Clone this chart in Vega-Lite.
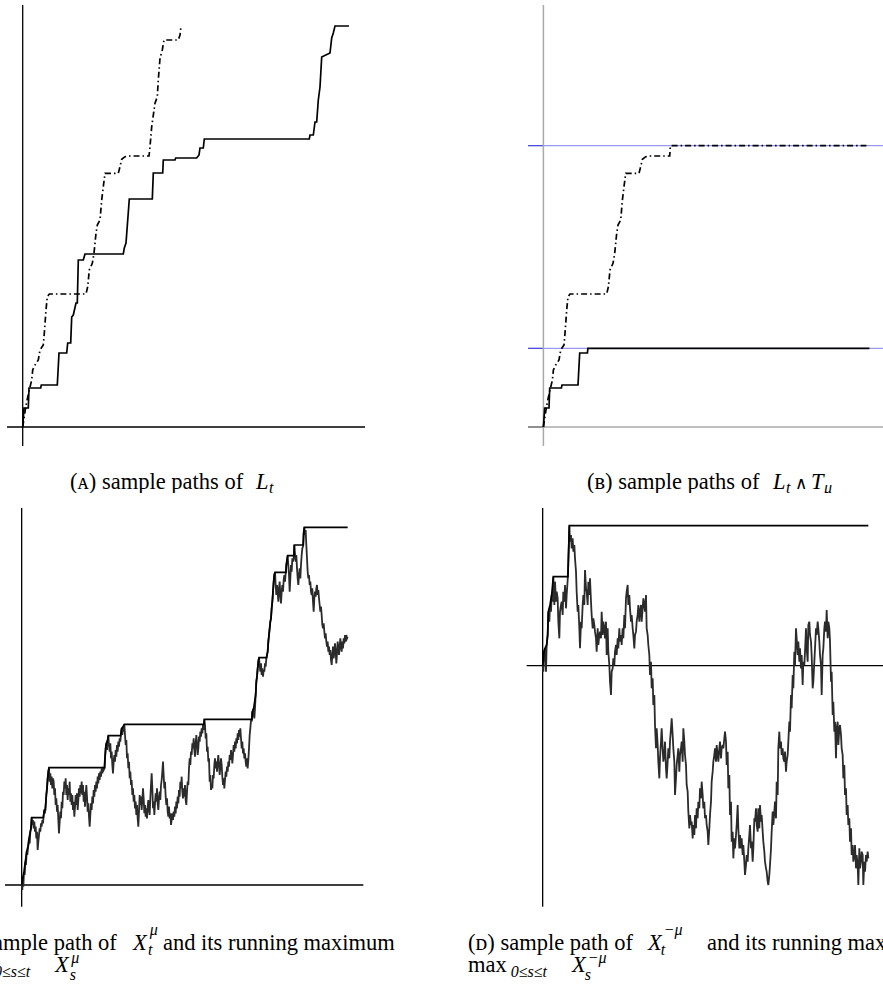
{
"$schema": "https://vega.github.io/schema/vega-lite/v6.json",
"padding": 0,
"bounds": "flush",
"spacing": 0,
"columns": 2,
"background": "#ffffff",
"config": {"view": {"stroke": null}, "axis": {"disable": true}, "text": {"font": "Liberation Serif", "color": "#000000"}},
"datasets": {
"a_solid": [{"t":0,"v":0},{"t":0.13,"v":1.9},{"t":0.56,"v":1.9},{"t":0.63,"v":3.9},{"t":1.8,"v":3.9},{"t":1.86,"v":4.2},{"t":3.46,"v":4.2},{"t":3.63,"v":7.4},{"t":4.4,"v":7.4},{"t":4.5,"v":8.4},{"t":4.8,"v":8.4},{"t":4.9,"v":11.0},{"t":5.06,"v":11.2},{"t":5.33,"v":12.4},{"t":5.46,"v":12.4},{"t":5.56,"v":16.7},{"t":6.06,"v":16.7},{"t":6.23,"v":17.3},{"t":10.06,"v":17.3},{"t":10.16,"v":17.9},{"t":10.33,"v":18.4},{"t":10.66,"v":22.8},{"t":12.96,"v":22.8},{"t":13.06,"v":25.4},{"t":14.0,"v":25.4},{"t":14.06,"v":26.7},{"t":15.23,"v":26.7},{"t":15.3,"v":26.9},{"t":17.4,"v":26.9},{"t":17.63,"v":27.2},{"t":17.73,"v":27.9},{"t":18.06,"v":27.9},{"t":18.16,"v":28.8},{"t":28.66,"v":28.8},{"t":28.73,"v":29.2},{"t":29.06,"v":29.2},{"t":29.23,"v":30.5},{"t":29.4,"v":30.5},{"t":29.56,"v":32.7},{"t":29.73,"v":34.0},{"t":29.9,"v":37.0},{"t":30.73,"v":37.4},{"t":30.9,"v":38.9},{"t":31.06,"v":39.4},{"t":31.23,"v":40.1},{"t":32.63,"v":40.1}],
"a_dash": [{"t":0,"v":0},{"t":0.23,"v":1.53},{"t":0.4,"v":2.53},{"t":0.66,"v":3.7},{"t":0.9,"v":4.7},{"t":1.0,"v":5.7},{"t":1.23,"v":6.2},{"t":1.56,"v":6.7},{"t":1.73,"v":7.7},{"t":2.06,"v":8.2},{"t":2.16,"v":9.37},{"t":2.33,"v":11.7},{"t":2.46,"v":13.03},{"t":2.66,"v":13.3},{"t":6.33,"v":13.3},{"t":6.5,"v":14.03},{"t":6.66,"v":15.7},{"t":6.96,"v":16.37},{"t":7.13,"v":17.37},{"t":7.33,"v":19.37},{"t":7.46,"v":20.2},{"t":7.73,"v":20.7},{"t":7.9,"v":22.7},{"t":8.06,"v":24.03},{"t":8.23,"v":25.37},{"t":9.56,"v":25.37},{"t":9.73,"v":26.03},{"t":9.9,"v":26.77},{"t":10.23,"v":27.03},{"t":10.73,"v":27.1},{"t":12.63,"v":27.1},{"t":12.73,"v":28.03},{"t":12.9,"v":30.03},{"t":13.23,"v":32.37},{"t":13.46,"v":33.03},{"t":13.56,"v":34.7},{"t":13.73,"v":36.87},{"t":13.96,"v":37.7},{"t":14.13,"v":38.7},{"t":15.56,"v":38.7},{"t":15.73,"v":39.2},{"t":15.83,"v":40.1}],
"b_solid": [{"t":0,"v":0},{"t":0.13,"v":1.9},{"t":0.56,"v":1.9},{"t":0.63,"v":3.9},{"t":1.8,"v":3.9},{"t":1.86,"v":4.2},{"t":3.46,"v":4.2},{"t":3.63,"v":7.4},{"t":4.4,"v":7.4},{"t":4.45,"v":7.87},{"t":32.6,"v":7.87}],
"b_dash": [{"t":0,"v":0},{"t":0.23,"v":1.53},{"t":0.4,"v":2.53},{"t":0.66,"v":3.7},{"t":0.9,"v":4.7},{"t":1.0,"v":5.7},{"t":1.23,"v":6.2},{"t":1.56,"v":6.7},{"t":1.73,"v":7.7},{"t":2.06,"v":8.2},{"t":2.16,"v":9.37},{"t":2.33,"v":11.7},{"t":2.46,"v":13.03},{"t":2.66,"v":13.3},{"t":6.33,"v":13.3},{"t":6.5,"v":14.03},{"t":6.66,"v":15.7},{"t":6.96,"v":16.37},{"t":7.13,"v":17.37},{"t":7.33,"v":19.37},{"t":7.46,"v":20.2},{"t":7.73,"v":20.7},{"t":7.9,"v":22.7},{"t":8.06,"v":24.03},{"t":8.23,"v":25.37},{"t":9.56,"v":25.37},{"t":9.73,"v":26.03},{"t":9.9,"v":26.77},{"t":10.23,"v":27.03},{"t":10.73,"v":27.1},{"t":12.63,"v":27.1},{"t":12.7,"v":28.13},{"t":32.3,"v":28.13}],
"c_max": [{"t":0,"v":0},{"t":0.3,"v":2},{"t":0.7,"v":4},{"t":1.1,"v":7},{"t":1.5,"v":10},{"t":2.0,"v":12},{"t":2.2,"v":14},{"t":2.6,"v":16},{"t":2.8,"v":17},{"t":3.0,"v":20.2},{"t":6.5,"v":20.2},{"t":6.6,"v":21},{"t":6.8,"v":22.5},{"t":7.1,"v":22.5},{"t":7.2,"v":24},{"t":7.4,"v":27},{"t":7.6,"v":29},{"t":7.8,"v":32},{"t":8.0,"v":34},{"t":8.2,"v":35.2},{"t":24.9,"v":35.2},{"t":25.0,"v":38},{"t":25.2,"v":41},{"t":25.4,"v":42.5},{"t":25.8,"v":43.5},{"t":26.0,"v":44.8},{"t":29.7,"v":44.8},{"t":29.8,"v":45.5},{"t":30.0,"v":47},{"t":30.4,"v":47.5},{"t":30.8,"v":48.2},{"t":54.7,"v":48.2},{"t":54.8,"v":49.7},{"t":69.1,"v":49.7},{"t":69.2,"v":52},{"t":69.6,"v":53},{"t":70.2,"v":57},{"t":70.4,"v":61},{"t":70.6,"v":62.5},{"t":70.8,"v":65},{"t":71.0,"v":67},{"t":71.2,"v":68.2},{"t":73.5,"v":68.2},{"t":73.6,"v":69},{"t":73.8,"v":70},{"t":74.0,"v":73},{"t":74.2,"v":75},{"t":74.4,"v":77},{"t":74.6,"v":79},{"t":74.8,"v":80},{"t":75.0,"v":83},{"t":75.2,"v":85},{"t":75.4,"v":88},{"t":75.6,"v":91},{"t":75.8,"v":93},{"t":76.0,"v":93.8},{"t":79.3,"v":93.8},{"t":79.4,"v":96},{"t":79.6,"v":97.5},{"t":79.8,"v":98.8},{"t":81.7,"v":98.8},{"t":81.8,"v":102},{"t":84.5,"v":102},{"t":84.6,"v":105.5},{"t":84.8,"v":107.3},{"t":97.8,"v":107.3}],
"c_path": [{"t":0,"v":0},{"t":0.2,"v":-1.5},{"t":0.3,"v":2},{"t":0.5,"v":-0.5},{"t":0.7,"v":4},{"t":0.9,"v":3},{"t":1.1,"v":7},{"t":1.3,"v":6},{"t":1.5,"v":10},{"t":1.7,"v":9},{"t":2.0,"v":12},{"t":2.2,"v":14},{"t":2.4,"v":12.5},{"t":2.6,"v":16},{"t":2.8,"v":17},{"t":3.0,"v":20.2},{"t":3.2,"v":18},{"t":3.4,"v":19.5},{"t":3.6,"v":17},{"t":3.8,"v":19},{"t":4.0,"v":16},{"t":4.2,"v":17.5},{"t":4.4,"v":14},{"t":4.6,"v":16},{"t":4.8,"v":10.5},{"t":5.0,"v":13},{"t":5.2,"v":15},{"t":5.4,"v":17},{"t":5.6,"v":16},{"t":5.8,"v":18.5},{"t":6.0,"v":17.5},{"t":6.2,"v":19.5},{"t":6.4,"v":18.5},{"t":6.6,"v":21},{"t":6.8,"v":22.5},{"t":7.0,"v":21.5},{"t":7.2,"v":24},{"t":7.4,"v":27},{"t":7.6,"v":29},{"t":7.8,"v":32},{"t":8.0,"v":34},{"t":8.2,"v":35.2},{"t":8.4,"v":31},{"t":8.6,"v":33.5},{"t":8.8,"v":30},{"t":9.0,"v":32.5},{"t":9.2,"v":29},{"t":9.4,"v":32},{"t":9.6,"v":31},{"t":9.8,"v":27},{"t":10.0,"v":29},{"t":10.2,"v":24},{"t":10.4,"v":26},{"t":10.6,"v":22},{"t":10.8,"v":24},{"t":11.0,"v":19.5},{"t":11.2,"v":15.5},{"t":11.4,"v":19},{"t":11.6,"v":22},{"t":11.8,"v":20},{"t":12.0,"v":25},{"t":12.2,"v":23},{"t":12.4,"v":28},{"t":12.6,"v":27},{"t":12.8,"v":31},{"t":13.0,"v":29},{"t":13.2,"v":32},{"t":13.4,"v":27},{"t":13.6,"v":30},{"t":13.8,"v":25.5},{"t":14.0,"v":29},{"t":14.2,"v":27},{"t":14.4,"v":31},{"t":14.6,"v":25},{"t":14.8,"v":27.5},{"t":15.0,"v":24},{"t":15.2,"v":27},{"t":15.4,"v":22.5},{"t":15.6,"v":25},{"t":15.8,"v":20.5},{"t":16.0,"v":23.5},{"t":16.2,"v":27},{"t":16.4,"v":24},{"t":16.6,"v":27.5},{"t":16.8,"v":22.5},{"t":17.0,"v":25.5},{"t":17.2,"v":29},{"t":17.4,"v":26.5},{"t":17.6,"v":30},{"t":17.8,"v":27.5},{"t":18.0,"v":31},{"t":18.2,"v":27},{"t":18.4,"v":30},{"t":18.6,"v":25},{"t":18.8,"v":28},{"t":19.0,"v":23.5},{"t":19.2,"v":27},{"t":19.4,"v":30},{"t":19.6,"v":26.5},{"t":19.8,"v":22},{"t":20.0,"v":24.5},{"t":20.2,"v":20.5},{"t":20.4,"v":17.5},{"t":20.6,"v":21},{"t":20.8,"v":24.5},{"t":21.0,"v":22.5},{"t":21.2,"v":26.5},{"t":21.4,"v":24.5},{"t":21.6,"v":28.5},{"t":21.8,"v":26.5},{"t":22.0,"v":30},{"t":22.2,"v":28},{"t":22.4,"v":31},{"t":22.6,"v":29},{"t":22.8,"v":32.5},{"t":23.0,"v":30.5},{"t":23.2,"v":33.5},{"t":23.4,"v":31.5},{"t":23.6,"v":34},{"t":23.8,"v":32.5},{"t":24.0,"v":35},{"t":24.2,"v":33.5},{"t":24.4,"v":34.8},{"t":24.6,"v":34.5},{"t":24.8,"v":35},{"t":25.0,"v":38},{"t":25.2,"v":41},{"t":25.4,"v":42.5},{"t":25.6,"v":40.5},{"t":25.8,"v":43.5},{"t":26.0,"v":44.8},{"t":26.2,"v":42},{"t":26.4,"v":40},{"t":26.6,"v":42.5},{"t":26.8,"v":38},{"t":27.0,"v":40},{"t":27.2,"v":36},{"t":27.4,"v":33.5},{"t":27.6,"v":37},{"t":27.8,"v":39},{"t":28.0,"v":37},{"t":28.2,"v":40.5},{"t":28.4,"v":38.5},{"t":28.6,"v":42},{"t":28.8,"v":40},{"t":29.0,"v":43},{"t":29.2,"v":41.5},{"t":29.4,"v":44},{"t":29.6,"v":43},{"t":29.8,"v":45.5},{"t":30.0,"v":47},{"t":30.2,"v":45},{"t":30.4,"v":47.5},{"t":30.6,"v":46},{"t":30.8,"v":48.2},{"t":31.0,"v":45},{"t":31.2,"v":42},{"t":31.4,"v":43.5},{"t":31.6,"v":38},{"t":31.8,"v":39.5},{"t":32.0,"v":35},{"t":32.2,"v":37},{"t":32.4,"v":32},{"t":32.6,"v":34},{"t":32.8,"v":30},{"t":33.0,"v":31.5},{"t":33.2,"v":27},{"t":33.4,"v":29},{"t":33.6,"v":25},{"t":33.8,"v":27},{"t":34.0,"v":23},{"t":34.2,"v":25},{"t":34.4,"v":21},{"t":34.6,"v":24},{"t":34.8,"v":20},{"t":35.0,"v":17.5},{"t":35.2,"v":22},{"t":35.4,"v":27},{"t":35.6,"v":24},{"t":35.8,"v":26.5},{"t":36.0,"v":22.5},{"t":36.2,"v":25.5},{"t":36.4,"v":29},{"t":36.6,"v":26},{"t":36.8,"v":21.5},{"t":37.0,"v":24},{"t":37.2,"v":20.5},{"t":37.4,"v":23},{"t":37.6,"v":20},{"t":37.8,"v":23.5},{"t":38.0,"v":25.5},{"t":38.2,"v":22.5},{"t":38.4,"v":21},{"t":38.6,"v":26},{"t":38.8,"v":30},{"t":39.0,"v":33.5},{"t":39.2,"v":29},{"t":39.4,"v":23},{"t":39.6,"v":25},{"t":39.8,"v":21},{"t":40.0,"v":24.5},{"t":40.2,"v":27.5},{"t":40.4,"v":25},{"t":40.6,"v":29},{"t":40.8,"v":24.5},{"t":41.0,"v":22.5},{"t":41.2,"v":26},{"t":41.4,"v":28},{"t":41.6,"v":25.5},{"t":41.8,"v":30},{"t":42.0,"v":31.5},{"t":42.2,"v":34},{"t":42.4,"v":37},{"t":42.6,"v":33},{"t":42.8,"v":29},{"t":43.0,"v":31},{"t":43.2,"v":26.5},{"t":43.4,"v":24},{"t":43.6,"v":26},{"t":43.8,"v":22},{"t":44.0,"v":20.5},{"t":44.2,"v":23.5},{"t":44.4,"v":20},{"t":44.6,"v":21.5},{"t":44.8,"v":18},{"t":45.0,"v":19.5},{"t":45.2,"v":21.5},{"t":45.4,"v":19.5},{"t":45.6,"v":22},{"t":45.8,"v":20.5},{"t":46.0,"v":23.5},{"t":46.2,"v":21.5},{"t":46.4,"v":25},{"t":46.6,"v":23},{"t":46.8,"v":26.5},{"t":47.0,"v":24.5},{"t":47.2,"v":28.5},{"t":47.4,"v":26.5},{"t":47.6,"v":31},{"t":47.8,"v":29},{"t":48.0,"v":32.5},{"t":48.2,"v":28},{"t":48.4,"v":26},{"t":48.6,"v":29},{"t":48.8,"v":26.5},{"t":49.0,"v":30},{"t":49.2,"v":25.5},{"t":49.4,"v":24},{"t":49.6,"v":28},{"t":49.8,"v":31},{"t":50.0,"v":30},{"t":50.2,"v":35},{"t":50.4,"v":38},{"t":50.6,"v":36},{"t":50.8,"v":40},{"t":51.0,"v":39},{"t":51.2,"v":42.5},{"t":51.4,"v":41},{"t":51.6,"v":44},{"t":51.8,"v":40.5},{"t":52.0,"v":38.5},{"t":52.2,"v":42.5},{"t":52.4,"v":45},{"t":52.6,"v":42.5},{"t":52.8,"v":39},{"t":53.0,"v":41},{"t":53.2,"v":44.5},{"t":53.4,"v":43},{"t":53.6,"v":46},{"t":53.8,"v":44.5},{"t":54.0,"v":47},{"t":54.2,"v":45.5},{"t":54.4,"v":48},{"t":54.6,"v":46.5},{"t":54.8,"v":49.7},{"t":55.0,"v":48},{"t":55.2,"v":44},{"t":55.4,"v":45.5},{"t":55.6,"v":40},{"t":55.8,"v":41.5},{"t":56.0,"v":37},{"t":56.2,"v":38},{"t":56.4,"v":31},{"t":56.6,"v":33},{"t":56.8,"v":28.5},{"t":57.0,"v":30},{"t":57.2,"v":29},{"t":57.4,"v":33},{"t":57.6,"v":32},{"t":57.8,"v":36},{"t":58.0,"v":38},{"t":58.2,"v":35},{"t":58.4,"v":37},{"t":58.6,"v":34},{"t":58.8,"v":37},{"t":59.0,"v":39},{"t":59.2,"v":36},{"t":59.4,"v":33},{"t":59.6,"v":35.5},{"t":59.8,"v":38},{"t":60.0,"v":36},{"t":60.2,"v":32.5},{"t":60.4,"v":30},{"t":60.6,"v":32},{"t":60.8,"v":29},{"t":61.0,"v":31.5},{"t":61.2,"v":34},{"t":61.4,"v":32.5},{"t":61.6,"v":35.5},{"t":61.8,"v":34},{"t":62.0,"v":37},{"t":62.2,"v":35.5},{"t":62.4,"v":39},{"t":62.6,"v":37.5},{"t":62.8,"v":40.5},{"t":63.0,"v":39},{"t":63.2,"v":36.5},{"t":63.4,"v":39},{"t":63.6,"v":42},{"t":63.8,"v":40},{"t":64.0,"v":43},{"t":64.2,"v":41},{"t":64.4,"v":44},{"t":64.6,"v":42.5},{"t":64.8,"v":45.5},{"t":65.0,"v":43.5},{"t":65.2,"v":46.5},{"t":65.4,"v":44.5},{"t":65.6,"v":47},{"t":65.8,"v":44},{"t":66.0,"v":41},{"t":66.2,"v":43},{"t":66.4,"v":39.5},{"t":66.6,"v":41},{"t":66.8,"v":38},{"t":67.0,"v":39.5},{"t":67.2,"v":37},{"t":67.4,"v":35.5},{"t":67.6,"v":38},{"t":67.8,"v":35},{"t":68.0,"v":37.5},{"t":68.2,"v":41},{"t":68.4,"v":45},{"t":68.6,"v":47},{"t":68.8,"v":49.5},{"t":69.0,"v":49},{"t":69.2,"v":52},{"t":69.4,"v":50.5},{"t":69.6,"v":53},{"t":69.8,"v":50},{"t":70.0,"v":53},{"t":70.2,"v":57},{"t":70.4,"v":61},{"t":70.6,"v":62.5},{"t":70.8,"v":65},{"t":71.0,"v":67},{"t":71.2,"v":68.2},{"t":71.4,"v":66},{"t":71.6,"v":64},{"t":71.8,"v":66.5},{"t":72.0,"v":63},{"t":72.2,"v":65},{"t":72.4,"v":62.5},{"t":72.6,"v":64.5},{"t":72.8,"v":64},{"t":73.0,"v":66.5},{"t":73.2,"v":65.5},{"t":73.4,"v":68},{"t":73.6,"v":69},{"t":73.8,"v":70},{"t":74.0,"v":73},{"t":74.2,"v":75},{"t":74.4,"v":77},{"t":74.6,"v":79},{"t":74.8,"v":80},{"t":75.0,"v":83},{"t":75.2,"v":85},{"t":75.4,"v":88},{"t":75.6,"v":91},{"t":75.8,"v":93},{"t":76.0,"v":93.8},{"t":76.2,"v":90},{"t":76.4,"v":87},{"t":76.6,"v":90},{"t":76.8,"v":88},{"t":77.0,"v":85},{"t":77.2,"v":89},{"t":77.4,"v":91},{"t":77.6,"v":87},{"t":77.8,"v":84.5},{"t":78.0,"v":88},{"t":78.2,"v":90},{"t":78.4,"v":88},{"t":78.6,"v":91.5},{"t":78.8,"v":93},{"t":79.0,"v":91},{"t":79.2,"v":93.5},{"t":79.4,"v":96},{"t":79.6,"v":97.5},{"t":79.8,"v":98.8},{"t":80.0,"v":96},{"t":80.2,"v":93},{"t":80.4,"v":88},{"t":80.6,"v":92},{"t":80.8,"v":96},{"t":81.0,"v":94},{"t":81.2,"v":98},{"t":81.4,"v":97},{"t":81.6,"v":98},{"t":81.8,"v":102},{"t":82.0,"v":99.5},{"t":82.2,"v":97},{"t":82.4,"v":99},{"t":82.6,"v":95},{"t":82.8,"v":92},{"t":83.0,"v":90},{"t":83.2,"v":93},{"t":83.4,"v":95},{"t":83.6,"v":92},{"t":83.8,"v":96},{"t":84.0,"v":99},{"t":84.2,"v":101},{"t":84.4,"v":101.5},{"t":84.6,"v":105.5},{"t":84.8,"v":107.3},{"t":85.0,"v":105},{"t":85.2,"v":106.5},{"t":85.4,"v":102},{"t":85.6,"v":98},{"t":85.8,"v":94},{"t":86.0,"v":92},{"t":86.2,"v":93},{"t":86.4,"v":90},{"t":86.6,"v":91},{"t":86.8,"v":88},{"t":87.0,"v":87},{"t":87.2,"v":89},{"t":87.4,"v":85},{"t":87.6,"v":82},{"t":87.8,"v":86},{"t":88.0,"v":88},{"t":88.2,"v":86.5},{"t":88.4,"v":89},{"t":88.6,"v":90},{"t":88.8,"v":87},{"t":89.0,"v":88.5},{"t":89.2,"v":86},{"t":89.4,"v":84},{"t":89.6,"v":82},{"t":89.8,"v":83.5},{"t":90.0,"v":81},{"t":90.2,"v":78},{"t":90.4,"v":77},{"t":90.6,"v":78.5},{"t":90.8,"v":76},{"t":91.0,"v":74},{"t":91.2,"v":75.5},{"t":91.4,"v":73},{"t":91.6,"v":71.5},{"t":91.8,"v":73},{"t":92.0,"v":70},{"t":92.2,"v":71.5},{"t":92.4,"v":69},{"t":92.6,"v":70.5},{"t":92.8,"v":67.5},{"t":93.0,"v":66},{"t":93.2,"v":69},{"t":93.4,"v":71.5},{"t":93.6,"v":68},{"t":93.8,"v":70},{"t":94.0,"v":72.5},{"t":94.2,"v":70},{"t":94.4,"v":66.5},{"t":94.6,"v":69.5},{"t":94.8,"v":73},{"t":95.0,"v":71},{"t":95.2,"v":69},{"t":95.4,"v":71.5},{"t":95.6,"v":74},{"t":95.8,"v":71.5},{"t":96.0,"v":70},{"t":96.2,"v":73},{"t":96.4,"v":71},{"t":96.6,"v":74},{"t":96.8,"v":72.5},{"t":97.0,"v":75},{"t":97.2,"v":73},{"t":97.4,"v":75},{"t":97.6,"v":74},{"t":97.8,"v":74.5}],
"d_max": [{"t":0,"v":0},{"t":0.4,"v":4.2},{"t":0.7,"v":5.2},{"t":1.2,"v":6.2},{"t":1.5,"v":9.2},{"t":1.7,"v":16.2},{"t":2.2,"v":18.2},{"t":2.7,"v":21.2},{"t":3.2,"v":26.7},{"t":7.6,"v":26.7},{"t":7.7,"v":31.2},{"t":7.9,"v":38.2},{"t":8.0,"v":42},{"t":97.7,"v":42}],
"d_path": [{"t":0,"v":0},{"t":0.2,"v":-1.8},{"t":0.4,"v":4.2},{"t":0.7,"v":5.2},{"t":1.0,"v":-1.8},{"t":1.2,"v":6.2},{"t":1.5,"v":9.2},{"t":1.7,"v":16.2},{"t":2.0,"v":13.2},{"t":2.2,"v":18.2},{"t":2.5,"v":16.2},{"t":2.7,"v":21.2},{"t":3.0,"v":19.2},{"t":3.2,"v":26.7},{"t":3.5,"v":18.2},{"t":3.7,"v":25.2},{"t":4.0,"v":19.2},{"t":4.2,"v":22.2},{"t":4.5,"v":20.2},{"t":4.7,"v":13.2},{"t":5.0,"v":8.2},{"t":5.2,"v":16.2},{"t":5.5,"v":18.2},{"t":5.7,"v":19.2},{"t":6.0,"v":15.2},{"t":6.2,"v":22.2},{"t":6.5,"v":19.2},{"t":6.7,"v":24.2},{"t":7.0,"v":17.2},{"t":7.2,"v":21.2},{"t":7.5,"v":25.7},{"t":7.7,"v":31.2},{"t":7.9,"v":38.2},{"t":8.0,"v":42},{"t":8.2,"v":37.2},{"t":8.5,"v":39.2},{"t":8.7,"v":35.2},{"t":9.0,"v":38.2},{"t":9.2,"v":34.2},{"t":9.5,"v":36.2},{"t":9.7,"v":32.2},{"t":10.0,"v":28.2},{"t":10.2,"v":22.2},{"t":10.5,"v":16.2},{"t":10.7,"v":18.2},{"t":11.0,"v":11.2},{"t":11.2,"v":5.2},{"t":11.5,"v":13.2},{"t":11.7,"v":11.2},{"t":12.0,"v":18.2},{"t":12.2,"v":21.2},{"t":12.5,"v":18.2},{"t":12.7,"v":28.7},{"t":13.0,"v":23.2},{"t":13.2,"v":22.2},{"t":13.5,"v":18.2},{"t":13.7,"v":25.2},{"t":14.0,"v":21.2},{"t":14.2,"v":26.2},{"t":14.5,"v":19.2},{"t":14.7,"v":15.2},{"t":15.0,"v":11.2},{"t":15.2,"v":14.2},{"t":15.5,"v":12.2},{"t":15.7,"v":10.2},{"t":16.0,"v":8.2},{"t":16.2,"v":4.2},{"t":16.5,"v":11.2},{"t":16.7,"v":6.2},{"t":17.0,"v":9.2},{"t":17.2,"v":10.2},{"t":17.5,"v":8.2},{"t":17.7,"v":16.2},{"t":18.0,"v":9.2},{"t":18.2,"v":13.2},{"t":18.5,"v":11.2},{"t":18.7,"v":8.2},{"t":19.0,"v":13.2},{"t":19.2,"v":3.2},{"t":19.5,"v":11.2},{"t":19.7,"v":4.2},{"t":20.0,"v":0.2},{"t":20.2,"v":-4.8},{"t":20.5,"v":-8.8},{"t":20.7,"v":-1.8},{"t":21.0,"v":-0.8},{"t":21.2,"v":2.2},{"t":21.5,"v":0.2},{"t":21.7,"v":4.2},{"t":22.0,"v":6.2},{"t":22.2,"v":3.2},{"t":22.5,"v":8.2},{"t":22.7,"v":5.2},{"t":23.0,"v":11.2},{"t":23.2,"v":7.2},{"t":23.5,"v":9.2},{"t":23.7,"v":6.2},{"t":24.0,"v":11.2},{"t":24.2,"v":8.2},{"t":24.5,"v":15.2},{"t":24.7,"v":11.2},{"t":25.0,"v":20.2},{"t":25.2,"v":22.2},{"t":25.5,"v":24.2},{"t":25.7,"v":18.2},{"t":26.0,"v":21.2},{"t":26.2,"v":17.2},{"t":26.5,"v":13.2},{"t":26.7,"v":15.2},{"t":27.0,"v":11.2},{"t":27.2,"v":9.2},{"t":27.5,"v":5.2},{"t":27.7,"v":9.2},{"t":28.0,"v":10.2},{"t":28.2,"v":13.2},{"t":28.5,"v":15.2},{"t":28.7,"v":18.2},{"t":29.0,"v":13.2},{"t":29.2,"v":16.2},{"t":29.5,"v":18.2},{"t":29.7,"v":13.2},{"t":30.0,"v":17.2},{"t":30.2,"v":20.2},{"t":30.5,"v":18.2},{"t":30.7,"v":16.2},{"t":31.0,"v":21.2},{"t":31.2,"v":11.2},{"t":31.5,"v":9.2},{"t":31.7,"v":6.2},{"t":32.0,"v":3.2},{"t":32.2,"v":-2.8},{"t":32.5,"v":1.2},{"t":32.7,"v":-6.8},{"t":33.0,"v":-3.8},{"t":33.2,"v":-11.8},{"t":33.5,"v":-8.8},{"t":33.7,"v":-17.8},{"t":34.0,"v":-24.8},{"t":34.2,"v":-18.8},{"t":34.5,"v":-23.8},{"t":34.7,"v":-28.8},{"t":35.0,"v":-33.8},{"t":35.2,"v":-27.8},{"t":35.5,"v":-22.8},{"t":35.7,"v":-18.8},{"t":36.0,"v":-24.8},{"t":36.2,"v":-28.8},{"t":36.5,"v":-26.8},{"t":36.7,"v":-22.8},{"t":37.0,"v":-30.8},{"t":37.2,"v":-33.8},{"t":37.5,"v":-28.8},{"t":37.7,"v":-24.8},{"t":38.0,"v":-27.8},{"t":38.2,"v":-22.8},{"t":38.5,"v":-18.8},{"t":38.7,"v":-15.8},{"t":39.0,"v":-20.8},{"t":39.2,"v":-24.8},{"t":39.5,"v":-28.8},{"t":39.7,"v":-38.8},{"t":40.0,"v":-33.8},{"t":40.2,"v":-29.8},{"t":40.5,"v":-26.8},{"t":40.7,"v":-24.8},{"t":41.0,"v":-31.8},{"t":41.2,"v":-26.8},{"t":41.5,"v":-24.8},{"t":41.7,"v":-22.8},{"t":42.0,"v":-28.8},{"t":42.2,"v":-18.8},{"t":42.5,"v":-22.8},{"t":42.7,"v":-26.8},{"t":43.0,"v":-29.8},{"t":43.2,"v":-35.8},{"t":43.5,"v":-37.8},{"t":43.7,"v":-43.8},{"t":44.0,"v":-48.8},{"t":44.2,"v":-44.8},{"t":44.5,"v":-47.8},{"t":44.7,"v":-46.8},{"t":45.0,"v":-51.8},{"t":45.2,"v":-47.8},{"t":45.5,"v":-50.8},{"t":45.7,"v":-44.8},{"t":46.0,"v":-48.8},{"t":46.2,"v":-42.8},{"t":46.5,"v":-45.8},{"t":46.7,"v":-40.8},{"t":47.0,"v":-42.8},{"t":47.2,"v":-36.8},{"t":47.5,"v":-39.8},{"t":47.7,"v":-34.8},{"t":48.0,"v":-38.8},{"t":48.2,"v":-42.8},{"t":48.5,"v":-40.8},{"t":48.7,"v":-45.8},{"t":49.0,"v":-44.8},{"t":49.2,"v":-47.8},{"t":49.5,"v":-49.8},{"t":49.7,"v":-53.8},{"t":50.0,"v":-48.8},{"t":50.2,"v":-44.8},{"t":50.5,"v":-40.8},{"t":50.7,"v":-34.8},{"t":51.0,"v":-31.8},{"t":51.2,"v":-28.8},{"t":51.5,"v":-26.8},{"t":51.7,"v":-24.8},{"t":52.0,"v":-28.8},{"t":52.2,"v":-23.8},{"t":52.5,"v":-26.8},{"t":52.7,"v":-28.8},{"t":53.0,"v":-24.8},{"t":53.2,"v":-22.8},{"t":53.5,"v":-27.8},{"t":53.7,"v":-24.8},{"t":54.0,"v":-23.8},{"t":54.2,"v":-24.8},{"t":54.5,"v":-21.8},{"t":54.7,"v":-19.8},{"t":55.0,"v":-22.8},{"t":55.2,"v":-29.8},{"t":55.5,"v":-25.8},{"t":55.7,"v":-36.8},{"t":56.0,"v":-32.8},{"t":56.2,"v":-44.8},{"t":56.5,"v":-40.8},{"t":56.7,"v":-52.8},{"t":57.0,"v":-49.8},{"t":57.2,"v":-57.8},{"t":57.5,"v":-51.8},{"t":57.7,"v":-54.8},{"t":58.0,"v":-50.8},{"t":58.2,"v":-47.8},{"t":58.5,"v":-41.8},{"t":58.7,"v":-48.8},{"t":59.0,"v":-54.8},{"t":59.2,"v":-50.8},{"t":59.5,"v":-54.8},{"t":59.7,"v":-51.8},{"t":60.0,"v":-56.8},{"t":60.2,"v":-53.8},{"t":60.5,"v":-58.8},{"t":60.7,"v":-62.8},{"t":61.0,"v":-59.8},{"t":61.2,"v":-56.8},{"t":61.5,"v":-58.8},{"t":61.7,"v":-54.8},{"t":62.0,"v":-50.8},{"t":62.2,"v":-47.8},{"t":62.5,"v":-54.8},{"t":62.7,"v":-52.8},{"t":63.0,"v":-58.8},{"t":63.2,"v":-54.8},{"t":63.5,"v":-45.8},{"t":63.7,"v":-46.8},{"t":64.0,"v":-42.8},{"t":64.2,"v":-47.8},{"t":64.5,"v":-49.8},{"t":64.7,"v":-42.8},{"t":65.0,"v":-48.8},{"t":65.2,"v":-41.8},{"t":65.5,"v":-46.8},{"t":65.7,"v":-44.8},{"t":66.0,"v":-49.8},{"t":66.2,"v":-52.8},{"t":66.5,"v":-55.8},{"t":66.7,"v":-58.8},{"t":67.0,"v":-60.8},{"t":67.2,"v":-61.8},{"t":67.5,"v":-64.8},{"t":67.7,"v":-65.8},{"t":68.0,"v":-62.8},{"t":68.2,"v":-59.8},{"t":68.5,"v":-54.8},{"t":68.7,"v":-49.8},{"t":69.0,"v":-43.8},{"t":69.2,"v":-47.8},{"t":69.5,"v":-43.8},{"t":69.7,"v":-40.8},{"t":70.0,"v":-45.8},{"t":70.2,"v":-34.8},{"t":70.5,"v":-38.8},{"t":70.7,"v":-24.8},{"t":71.0,"v":-19.8},{"t":71.2,"v":-24.8},{"t":71.5,"v":-22.8},{"t":71.7,"v":-26.8},{"t":72.0,"v":-24.8},{"t":72.2,"v":-27.8},{"t":72.5,"v":-28.8},{"t":72.7,"v":-25.8},{"t":73.0,"v":-31.8},{"t":73.2,"v":-28.8},{"t":73.5,"v":-26.8},{"t":73.7,"v":-22.8},{"t":74.0,"v":-16.8},{"t":74.2,"v":-19.8},{"t":74.5,"v":-8.8},{"t":74.7,"v":-12.8},{"t":75.0,"v":-2.8},{"t":75.2,"v":-6.8},{"t":75.5,"v":4.2},{"t":75.7,"v":0.2},{"t":76.0,"v":11.2},{"t":76.2,"v":8.2},{"t":76.5,"v":3.2},{"t":76.7,"v":7.2},{"t":77.0,"v":1.2},{"t":77.2,"v":5.2},{"t":77.5,"v":-0.8},{"t":77.7,"v":3.2},{"t":78.0,"v":-5.8},{"t":78.2,"v":1.2},{"t":78.5,"v":0.2},{"t":78.7,"v":4.2},{"t":79.0,"v":11.2},{"t":79.2,"v":5.2},{"t":79.5,"v":1.2},{"t":79.7,"v":12.2},{"t":80.0,"v":13.2},{"t":80.2,"v":9.2},{"t":80.5,"v":7.2},{"t":80.7,"v":3.2},{"t":81.0,"v":-6.8},{"t":81.2,"v":-4.8},{"t":81.5,"v":1.2},{"t":81.7,"v":5.2},{"t":82.0,"v":11.2},{"t":82.2,"v":9.2},{"t":82.5,"v":13.2},{"t":82.7,"v":11.2},{"t":83.0,"v":7.2},{"t":83.2,"v":3.2},{"t":83.5,"v":0.2},{"t":83.7,"v":-8.8},{"t":84.0,"v":3.2},{"t":84.2,"v":5.2},{"t":84.5,"v":11.2},{"t":84.7,"v":13.2},{"t":85.0,"v":10.2},{"t":85.2,"v":16.7},{"t":85.5,"v":8.2},{"t":85.7,"v":13.2},{"t":86.0,"v":11.2},{"t":86.2,"v":7.2},{"t":86.5,"v":-4.8},{"t":86.7,"v":-1.8},{"t":87.0,"v":-14.8},{"t":87.2,"v":-10.8},{"t":87.5,"v":-19.8},{"t":87.7,"v":-16.8},{"t":88.0,"v":-27.8},{"t":88.2,"v":-18.8},{"t":88.5,"v":-16.8},{"t":88.7,"v":-23.8},{"t":89.0,"v":-18.8},{"t":89.2,"v":-17.8},{"t":89.5,"v":-20.8},{"t":89.7,"v":-24.8},{"t":90.0,"v":-26.8},{"t":90.2,"v":-33.8},{"t":90.5,"v":-29.8},{"t":90.7,"v":-38.8},{"t":91.0,"v":-36.8},{"t":91.2,"v":-44.8},{"t":91.5,"v":-41.8},{"t":91.7,"v":-47.8},{"t":92.0,"v":-45.8},{"t":92.2,"v":-52.8},{"t":92.5,"v":-48.8},{"t":92.7,"v":-56.8},{"t":93.0,"v":-53.8},{"t":93.2,"v":-58.8},{"t":93.5,"v":-56.8},{"t":93.7,"v":-53.8},{"t":94.0,"v":-60.8},{"t":94.2,"v":-56.8},{"t":94.5,"v":-59.8},{"t":94.7,"v":-65.8},{"t":95.0,"v":-54.8},{"t":95.2,"v":-60.8},{"t":95.5,"v":-58.8},{"t":95.7,"v":-55.8},{"t":96.0,"v":-56.8},{"t":96.2,"v":-65.8},{"t":96.5,"v":-58.8},{"t":96.7,"v":-61.8},{"t":97.0,"v":-56.8},{"t":97.2,"v":-58.8},{"t":97.5,"v":-55.8},{"t":97.7,"v":-57.8}]
},
"concat": [
{
"width": 441, "height": 493,
"data": {"values": [{}]},
"layer": [
{"mark": {"type": "rule", "color": "#000000", "strokeWidth": 1.3},
 "encoding": {"x": {"datum": 0, "scale": {"domain": [-2.27, 41.83], "nice": false, "zero": false}, "axis": null},
  "y": {"datum": 42.2, "scale": {"domain": [-6.6, 42.7], "nice": false, "zero": false}, "axis": null}, "y2": {"datum": -1.9}}},
{"mark": {"type": "rule", "color": "#000000", "strokeWidth": 1.3},
 "encoding": {"x": {"datum": -1.57, "scale": {"domain": [-2.27, 41.83], "nice": false, "zero": false}, "axis": null}, "x2": {"datum": 34.23},
  "y": {"datum": 0, "scale": {"domain": [-6.6, 42.7], "nice": false, "zero": false}, "axis": null}}},
{"data": {"name": "a_solid"}, "mark": {"type": "line", "color": "#000000", "strokeWidth": 1.7},
 "encoding": {"x": {"field": "t", "type": "quantitative", "scale": {"domain": [-2.27, 41.83], "nice": false, "zero": false}, "axis": null},
  "y": {"field": "v", "type": "quantitative", "scale": {"domain": [-6.6, 42.7], "nice": false, "zero": false}, "axis": null}, "order": {"value": null}}},
{"data": {"name": "a_dash"}, "mark": {"type": "line", "color": "#000000", "strokeWidth": 1.7, "strokeDash": [6, 3, 1.5, 3]},
 "encoding": {"x": {"field": "t", "type": "quantitative", "scale": {"domain": [-2.27, 41.83], "nice": false, "zero": false}, "axis": null},
  "y": {"field": "v", "type": "quantitative", "scale": {"domain": [-6.6, 42.7], "nice": false, "zero": false}, "axis": null}, "order": {"value": null}}},
{"mark": {"type": "text", "text": "(ᴀ) sample paths of", "font": "Liberation Serif", "fontSize": 22.5, "align": "left", "baseline": "alphabetic", "clip": true},
 "encoding": {"x": {"datum": 4.73, "scale": {"domain": [-2.27, 41.83], "nice": false, "zero": false}, "axis": null},
  "y": {"datum": -6.2, "scale": {"domain": [-6.6, 42.7], "nice": false, "zero": false}, "axis": null}}},
{"mark": {"type": "text", "text": "L", "font": "Liberation Serif", "fontSize": 22.5, "fontStyle": "italic", "align": "left", "baseline": "alphabetic", "clip": true},
 "encoding": {"x": {"datum": 23.33, "scale": {"domain": [-2.27, 41.83], "nice": false, "zero": false}, "axis": null},
  "y": {"datum": -6.2, "scale": {"domain": [-6.6, 42.7], "nice": false, "zero": false}, "axis": null}}},
{"mark": {"type": "text", "text": "t", "font": "Liberation Serif", "fontSize": 16, "fontStyle": "italic", "align": "left", "baseline": "alphabetic", "clip": true},
 "encoding": {"x": {"datum": 24.63, "scale": {"domain": [-2.27, 41.83], "nice": false, "zero": false}, "axis": null},
  "y": {"datum": -6.6, "scale": {"domain": [-6.6, 42.7], "nice": false, "zero": false}, "axis": null}}}
]
},
{
"width": 442, "height": 493,
"data": {"values": [{}]},
"layer": [
{"mark": {"type": "rule", "color": "#8080f0", "strokeWidth": 1},
 "encoding": {"x": {"datum": -1.54, "scale": {"domain": [-10.24, 33.96], "nice": false, "zero": false}, "axis": null}, "x2": {"datum": 33.96},
  "y": {"datum": 28.13, "scale": {"domain": [-6.6, 42.7], "nice": false, "zero": false}, "axis": null}}},
{"mark": {"type": "rule", "color": "#8080f0", "strokeWidth": 1},
 "encoding": {"x": {"datum": -1.54, "scale": {"domain": [-10.24, 33.96], "nice": false, "zero": false}, "axis": null}, "x2": {"datum": 33.96},
  "y": {"datum": 7.87, "scale": {"domain": [-6.6, 42.7], "nice": false, "zero": false}, "axis": null}}},
{"mark": {"type": "rule", "color": "#3a3ad8", "strokeWidth": 1},
 "encoding": {"x": {"datum": -1.54, "scale": {"domain": [-10.24, 33.96], "nice": false, "zero": false}, "axis": null}, "x2": {"datum": 0},
  "y": {"datum": 28.13, "scale": {"domain": [-6.6, 42.7], "nice": false, "zero": false}, "axis": null}}},
{"mark": {"type": "rule", "color": "#3a3ad8", "strokeWidth": 1},
 "encoding": {"x": {"datum": -1.54, "scale": {"domain": [-10.24, 33.96], "nice": false, "zero": false}, "axis": null}, "x2": {"datum": 0},
  "y": {"datum": 7.87, "scale": {"domain": [-6.6, 42.7], "nice": false, "zero": false}, "axis": null}}},
{"mark": {"type": "rule", "color": "#808080", "strokeWidth": 1},
 "encoding": {"x": {"datum": 0, "scale": {"domain": [-10.24, 33.96], "nice": false, "zero": false}, "axis": null}, "x2": {"datum": 33.96},
  "y": {"datum": 0, "scale": {"domain": [-6.6, 42.7], "nice": false, "zero": false}, "axis": null}}},
{"mark": {"type": "rule", "color": "#222222", "strokeWidth": 1},
 "encoding": {"x": {"datum": -1.54, "scale": {"domain": [-10.24, 33.96], "nice": false, "zero": false}, "axis": null}, "x2": {"datum": 0},
  "y": {"datum": 0, "scale": {"domain": [-6.6, 42.7], "nice": false, "zero": false}, "axis": null}}},
{"mark": {"type": "rule", "color": "#aaaaaa", "strokeWidth": 1.5},
 "encoding": {"x": {"datum": 0, "scale": {"domain": [-10.24, 33.96], "nice": false, "zero": false}, "axis": null},
  "y": {"datum": 42.2, "scale": {"domain": [-6.6, 42.7], "nice": false, "zero": false}, "axis": null}, "y2": {"datum": -1.9}}},
{"data": {"name": "b_solid"}, "mark": {"type": "line", "color": "#000000", "strokeWidth": 1.7},
 "encoding": {"x": {"field": "t", "type": "quantitative", "scale": {"domain": [-10.24, 33.96], "nice": false, "zero": false}, "axis": null},
  "y": {"field": "v", "type": "quantitative", "scale": {"domain": [-6.6, 42.7], "nice": false, "zero": false}, "axis": null}, "order": {"value": null}}},
{"data": {"name": "b_dash"}, "mark": {"type": "line", "color": "#000000", "strokeWidth": 1.7, "strokeDash": [6, 3, 1.5, 3]},
 "encoding": {"x": {"field": "t", "type": "quantitative", "scale": {"domain": [-10.24, 33.96], "nice": false, "zero": false}, "axis": null},
  "y": {"field": "v", "type": "quantitative", "scale": {"domain": [-6.6, 42.7], "nice": false, "zero": false}, "axis": null}, "order": {"value": null}}},
{"mark": {"type": "text", "text": "(ʙ) sample paths of", "font": "Liberation Serif", "fontSize": 22.5, "align": "left", "baseline": "alphabetic", "clip": true},
 "encoding": {"x": {"datum": 4.36, "scale": {"domain": [-10.24, 33.96], "nice": false, "zero": false}, "axis": null},
  "y": {"datum": -6.2, "scale": {"domain": [-6.6, 42.7], "nice": false, "zero": false}, "axis": null}}},
{"mark": {"type": "text", "text": "L", "font": "Liberation Serif", "fontSize": 22.5, "fontStyle": "italic", "align": "left", "baseline": "alphabetic", "clip": true},
 "encoding": {"x": {"datum": 22.96, "scale": {"domain": [-10.24, 33.96], "nice": false, "zero": false}, "axis": null},
  "y": {"datum": -6.2, "scale": {"domain": [-6.6, 42.7], "nice": false, "zero": false}, "axis": null}}},
{"mark": {"type": "text", "text": "t", "font": "Liberation Serif", "fontSize": 16, "fontStyle": "italic", "align": "left", "baseline": "alphabetic", "clip": true},
 "encoding": {"x": {"datum": 24.26, "scale": {"domain": [-10.24, 33.96], "nice": false, "zero": false}, "axis": null},
  "y": {"datum": -6.6, "scale": {"domain": [-6.6, 42.7], "nice": false, "zero": false}, "axis": null}}},
{"mark": {"type": "text", "text": "∧", "font": "DejaVu Serif", "fontSize": 17, "align": "left", "baseline": "alphabetic", "clip": true},
 "encoding": {"x": {"datum": 25.16, "scale": {"domain": [-10.24, 33.96], "nice": false, "zero": false}, "axis": null},
  "y": {"datum": -6.2, "scale": {"domain": [-6.6, 42.7], "nice": false, "zero": false}, "axis": null}}},
{"mark": {"type": "text", "text": "T", "font": "Liberation Serif", "fontSize": 22.5, "fontStyle": "italic", "align": "left", "baseline": "alphabetic", "clip": true},
 "encoding": {"x": {"datum": 26.76, "scale": {"domain": [-10.24, 33.96], "nice": false, "zero": false}, "axis": null},
  "y": {"datum": -6.2, "scale": {"domain": [-6.6, 42.7], "nice": false, "zero": false}, "axis": null}}},
{"mark": {"type": "text", "text": "μ", "font": "Liberation Serif", "fontSize": 16, "fontStyle": "italic", "align": "left", "baseline": "alphabetic", "clip": true},
 "encoding": {"x": {"datum": 28.06, "scale": {"domain": [-10.24, 33.96], "nice": false, "zero": false}, "axis": null},
  "y": {"datum": -6.6, "scale": {"domain": [-6.6, 42.7], "nice": false, "zero": false}, "axis": null}}}
]
},
{
"width": 441, "height": 493,
"data": {"values": [{}]},
"layer": [
{"mark": {"type": "rule", "color": "#000000", "strokeWidth": 1.3},
 "encoding": {"x": {"datum": 0, "scale": {"domain": [-6.5, 125.8], "nice": false, "zero": false}, "axis": null},
  "y": {"datum": 113.1, "scale": {"domain": [-30.3, 117.6], "nice": false, "zero": false}, "axis": null}, "y2": {"datum": -6.5}}},
{"mark": {"type": "rule", "color": "#000000", "strokeWidth": 1.3},
 "encoding": {"x": {"datum": -5.0, "scale": {"domain": [-6.5, 125.8], "nice": false, "zero": false}, "axis": null}, "x2": {"datum": 102.5},
  "y": {"datum": 0, "scale": {"domain": [-30.3, 117.6], "nice": false, "zero": false}, "axis": null}}},
{"data": {"name": "c_path"}, "mark": {"type": "line", "color": "#2b2b2b", "strokeWidth": 1.8, "strokeJoin": "miter"},
 "encoding": {"x": {"field": "t", "type": "quantitative", "scale": {"domain": [-6.5, 125.8], "nice": false, "zero": false}, "axis": null},
  "y": {"field": "v", "type": "quantitative", "scale": {"domain": [-30.3, 117.6], "nice": false, "zero": false}, "axis": null}, "order": {"value": null}}},
{"data": {"name": "c_max"}, "mark": {"type": "line", "color": "#000000", "strokeWidth": 1.7},
 "encoding": {"x": {"field": "t", "type": "quantitative", "scale": {"domain": [-6.5, 125.8], "nice": false, "zero": false}, "axis": null},
  "y": {"field": "v", "type": "quantitative", "scale": {"domain": [-30.3, 117.6], "nice": false, "zero": false}, "axis": null}, "order": {"value": null}}},
{"mark": {"type": "text", "text": "(ᴄ) sample path of", "font": "Liberation Serif", "fontSize": 22.5, "align": "left", "baseline": "alphabetic", "clip": true},
 "encoding": {"x": {"datum": -20.6, "scale": {"domain": [-6.5, 125.8], "nice": false, "zero": false}, "axis": null},
  "y": {"datum": -19.5, "scale": {"domain": [-30.3, 117.6], "nice": false, "zero": false}, "axis": null}}},
{"mark": {"type": "text", "text": "X", "font": "Liberation Serif", "fontSize": 22.5, "fontStyle": "italic", "align": "left", "baseline": "alphabetic", "clip": true},
 "encoding": {"x": {"datum": 33.4, "scale": {"domain": [-6.5, 125.8], "nice": false, "zero": false}, "axis": null},
  "y": {"datum": -19.5, "scale": {"domain": [-30.3, 117.6], "nice": false, "zero": false}, "axis": null}}},
{"mark": {"type": "text", "text": "μ", "font": "Liberation Serif", "fontSize": 16, "fontStyle": "italic", "align": "left", "baseline": "alphabetic", "clip": true},
 "encoding": {"x": {"datum": 38.4, "scale": {"domain": [-6.5, 125.8], "nice": false, "zero": false}, "axis": null},
  "y": {"datum": -15.0, "scale": {"domain": [-30.3, 117.6], "nice": false, "zero": false}, "axis": null}}},
{"mark": {"type": "text", "text": "t", "font": "Liberation Serif", "fontSize": 16, "fontStyle": "italic", "align": "left", "baseline": "alphabetic", "clip": true},
 "encoding": {"x": {"datum": 37.9, "scale": {"domain": [-6.5, 125.8], "nice": false, "zero": false}, "axis": null},
  "y": {"datum": -21.0, "scale": {"domain": [-30.3, 117.6], "nice": false, "zero": false}, "axis": null}}},
{"mark": {"type": "text", "text": "and its running maximum", "font": "Liberation Serif", "fontSize": 22.5, "align": "left", "baseline": "alphabetic", "clip": true},
 "encoding": {"x": {"datum": 42.4, "scale": {"domain": [-6.5, 125.8], "nice": false, "zero": false}, "axis": null},
  "y": {"datum": -19.5, "scale": {"domain": [-30.3, 117.6], "nice": false, "zero": false}, "axis": null}}},
{"mark": {"type": "text", "text": "max", "font": "Liberation Serif", "fontSize": 22.5, "align": "left", "baseline": "alphabetic", "clip": true},
 "encoding": {"x": {"datum": -20.6, "scale": {"domain": [-6.5, 125.8], "nice": false, "zero": false}, "axis": null},
  "y": {"datum": -26.0, "scale": {"domain": [-30.3, 117.6], "nice": false, "zero": false}, "axis": null}}},
{"mark": {"type": "text", "text": "0≤s≤t", "font": "Liberation Serif", "fontSize": 16, "fontStyle": "italic", "align": "left", "baseline": "alphabetic", "clip": true},
 "encoding": {"x": {"datum": -8.3, "scale": {"domain": [-6.5, 125.8], "nice": false, "zero": false}, "axis": null},
  "y": {"datum": -27.6, "scale": {"domain": [-30.3, 117.6], "nice": false, "zero": false}, "axis": null}}},
{"mark": {"type": "text", "text": "X", "font": "Liberation Serif", "fontSize": 22.5, "fontStyle": "italic", "align": "left", "baseline": "alphabetic", "clip": true},
 "encoding": {"x": {"datum": 10.0, "scale": {"domain": [-6.5, 125.8], "nice": false, "zero": false}, "axis": null},
  "y": {"datum": -26.0, "scale": {"domain": [-30.3, 117.6], "nice": false, "zero": false}, "axis": null}}},
{"mark": {"type": "text", "text": "μ", "font": "Liberation Serif", "fontSize": 16, "fontStyle": "italic", "align": "left", "baseline": "alphabetic", "clip": true},
 "encoding": {"x": {"datum": 14.9, "scale": {"domain": [-6.5, 125.8], "nice": false, "zero": false}, "axis": null},
  "y": {"datum": -23.4, "scale": {"domain": [-30.3, 117.6], "nice": false, "zero": false}, "axis": null}}},
{"mark": {"type": "text", "text": "s", "font": "Liberation Serif", "fontSize": 16, "fontStyle": "italic", "align": "left", "baseline": "alphabetic", "clip": true},
 "encoding": {"x": {"datum": 14.4, "scale": {"domain": [-6.5, 125.8], "nice": false, "zero": false}, "axis": null},
  "y": {"datum": -28.5, "scale": {"domain": [-30.3, 117.6], "nice": false, "zero": false}, "axis": null}}}
]
},
{
"width": 442, "height": 493,
"data": {"values": [{}]},
"layer": [
{"mark": {"type": "rule", "color": "#000000", "strokeWidth": 1.3},
 "encoding": {"x": {"datum": 0, "scale": {"domain": [-30.5, 102.1], "nice": false, "zero": false}, "axis": null},
  "y": {"datum": 47.3, "scale": {"domain": [-96.1, 51.8], "nice": false, "zero": false}, "axis": null}, "y2": {"datum": -72.3}}},
{"mark": {"type": "rule", "color": "#000000", "strokeWidth": 1.3},
 "encoding": {"x": {"datum": -4.8, "scale": {"domain": [-30.5, 102.1], "nice": false, "zero": false}, "axis": null}, "x2": {"datum": 102.1},
  "y": {"datum": 0, "scale": {"domain": [-96.1, 51.8], "nice": false, "zero": false}, "axis": null}}},
{"data": {"name": "d_path"}, "mark": {"type": "line", "color": "#2b2b2b", "strokeWidth": 1.8, "strokeJoin": "miter"},
 "encoding": {"x": {"field": "t", "type": "quantitative", "scale": {"domain": [-30.5, 102.1], "nice": false, "zero": false}, "axis": null},
  "y": {"field": "v", "type": "quantitative", "scale": {"domain": [-96.1, 51.8], "nice": false, "zero": false}, "axis": null}, "order": {"value": null}}},
{"data": {"name": "d_max"}, "mark": {"type": "line", "color": "#000000", "strokeWidth": 1.7},
 "encoding": {"x": {"field": "t", "type": "quantitative", "scale": {"domain": [-30.5, 102.1], "nice": false, "zero": false}, "axis": null},
  "y": {"field": "v", "type": "quantitative", "scale": {"domain": [-96.1, 51.8], "nice": false, "zero": false}, "axis": null}, "order": {"value": null}}},
{"mark": {"type": "text", "text": "(ᴅ) sample path of", "font": "Liberation Serif", "fontSize": 22.5, "align": "left", "baseline": "alphabetic", "clip": true},
 "encoding": {"x": {"datum": -22.4, "scale": {"domain": [-30.5, 102.1], "nice": false, "zero": false}, "axis": null},
  "y": {"datum": -85.3, "scale": {"domain": [-96.1, 51.8], "nice": false, "zero": false}, "axis": null}}},
{"mark": {"type": "text", "text": "X", "font": "Liberation Serif", "fontSize": 22.5, "fontStyle": "italic", "align": "left", "baseline": "alphabetic", "clip": true},
 "encoding": {"x": {"datum": 31.6, "scale": {"domain": [-30.5, 102.1], "nice": false, "zero": false}, "axis": null},
  "y": {"datum": -85.3, "scale": {"domain": [-96.1, 51.8], "nice": false, "zero": false}, "axis": null}}},
{"mark": {"type": "text", "text": "−μ", "font": "Liberation Serif", "fontSize": 16, "fontStyle": "italic", "align": "left", "baseline": "alphabetic", "clip": true},
 "encoding": {"x": {"datum": 36.3, "scale": {"domain": [-30.5, 102.1], "nice": false, "zero": false}, "axis": null},
  "y": {"datum": -80.8, "scale": {"domain": [-96.1, 51.8], "nice": false, "zero": false}, "axis": null}}},
{"mark": {"type": "text", "text": "t", "font": "Liberation Serif", "fontSize": 16, "fontStyle": "italic", "align": "left", "baseline": "alphabetic", "clip": true},
 "encoding": {"x": {"datum": 35.4, "scale": {"domain": [-30.5, 102.1], "nice": false, "zero": false}, "axis": null},
  "y": {"datum": -86.8, "scale": {"domain": [-96.1, 51.8], "nice": false, "zero": false}, "axis": null}}},
{"mark": {"type": "text", "text": "and its running maximum", "font": "Liberation Serif", "fontSize": 22.5, "align": "left", "baseline": "alphabetic", "clip": true},
 "encoding": {"x": {"datum": 49.3, "scale": {"domain": [-30.5, 102.1], "nice": false, "zero": false}, "axis": null},
  "y": {"datum": -85.3, "scale": {"domain": [-96.1, 51.8], "nice": false, "zero": false}, "axis": null}}},
{"mark": {"type": "text", "text": "max", "font": "Liberation Serif", "fontSize": 22.5, "align": "left", "baseline": "alphabetic", "clip": true},
 "encoding": {"x": {"datum": -22.4, "scale": {"domain": [-30.5, 102.1], "nice": false, "zero": false}, "axis": null},
  "y": {"datum": -91.8, "scale": {"domain": [-96.1, 51.8], "nice": false, "zero": false}, "axis": null}}},
{"mark": {"type": "text", "text": "0≤s≤t", "font": "Liberation Serif", "fontSize": 16, "fontStyle": "italic", "align": "left", "baseline": "alphabetic", "clip": true},
 "encoding": {"x": {"datum": -9.6, "scale": {"domain": [-30.5, 102.1], "nice": false, "zero": false}, "axis": null},
  "y": {"datum": -93.4, "scale": {"domain": [-96.1, 51.8], "nice": false, "zero": false}, "axis": null}}},
{"mark": {"type": "text", "text": "X", "font": "Liberation Serif", "fontSize": 22.5, "fontStyle": "italic", "align": "left", "baseline": "alphabetic", "clip": true},
 "encoding": {"x": {"datum": 8.8, "scale": {"domain": [-30.5, 102.1], "nice": false, "zero": false}, "axis": null},
  "y": {"datum": -91.8, "scale": {"domain": [-96.1, 51.8], "nice": false, "zero": false}, "axis": null}}},
{"mark": {"type": "text", "text": "−μ", "font": "Liberation Serif", "fontSize": 16, "fontStyle": "italic", "align": "left", "baseline": "alphabetic", "clip": true},
 "encoding": {"x": {"datum": 13.5, "scale": {"domain": [-30.5, 102.1], "nice": false, "zero": false}, "axis": null},
  "y": {"datum": -89.2, "scale": {"domain": [-96.1, 51.8], "nice": false, "zero": false}, "axis": null}}},
{"mark": {"type": "text", "text": "s", "font": "Liberation Serif", "fontSize": 16, "fontStyle": "italic", "align": "left", "baseline": "alphabetic", "clip": true},
 "encoding": {"x": {"datum": 12.6, "scale": {"domain": [-30.5, 102.1], "nice": false, "zero": false}, "axis": null},
  "y": {"datum": -94.3, "scale": {"domain": [-96.1, 51.8], "nice": false, "zero": false}, "axis": null}}}
]
}
]
}
